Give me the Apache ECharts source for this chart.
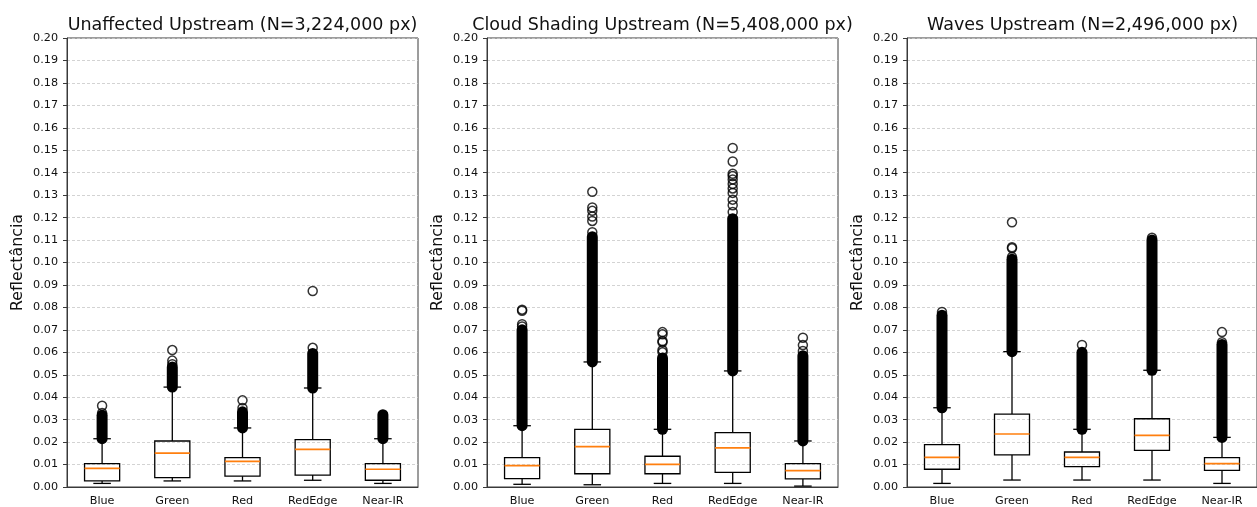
<!DOCTYPE html>
<html>
<head>
<meta charset="utf-8">
<title>Reflectância boxplots</title>
<script src="https://cdn.jsdelivr.net/npm/echarts@6/dist/echarts.min.js"></script>
<style>
  html, body { margin: 0; padding: 0; background: #fff; }
  #main { width: 1257px; height: 507px; }
</style>
</head>
<body>
<div id="main"></div>
<script>
 // 波段
 var categories = ['Blue', 'Green', 'Red', 'RedEdge', 'Near-IR'];
 var yTicks = [0, 0.2, 0.01];   // min, max, step

 var titles = [
	'Unaffected Upstream (N=3,224,000 px)',
	'Cloud Shading Upstream (N=5,408,000 px)',
	'Waves Upstream (N=2,496,000 px)'
 ];

 // [下须, Q1, 中位数, Q3, 上须]
 var unaffectedBoxes = [
	[0.0016, 0.0027, 0.0083, 0.0104, 0.0215],
	[0.0027, 0.0042, 0.0151, 0.0205, 0.0445],
	[0.0027, 0.0048, 0.0114, 0.0131, 0.0263],
	[0.0030, 0.0053, 0.0168, 0.0211, 0.0441],
	[0.0016, 0.0030, 0.0079, 0.0104, 0.0215]
 ];
 // 密集异常值区间 [起, 止]
 var unaffectedDense = [
	[0.0215, 0.0320], [0.0445, 0.0534], [0.0263, 0.0335], [0.0441, 0.0595], [0.0215, 0.0322]
 ];
 // 单独的异常值
 var unaffectedOutliers = [
	[0.0330, 0.0362],
	[0.0547, 0.0563, 0.0610],
	[0.0352, 0.0386],
	[0.0620, 0.0873],
	[]
 ];

 var cloudBoxes = [
	[0.0012, 0.0037, 0.0095, 0.0131, 0.0273],
	[0.0010, 0.0059, 0.0180, 0.0257, 0.0557],
	[0.0016, 0.0059, 0.0101, 0.0137, 0.0257],
	[0.0016, 0.0065, 0.0174, 0.0242, 0.0517],
	[0.0004, 0.0036, 0.0073, 0.0104, 0.0205]
 ];
 var cloudDense = [
	[0.0273, 0.0700], [0.0557, 0.1115], [0.0257, 0.0575], [0.0517, 0.1195], [0.0205, 0.0585]
 ];
 var cloudOutliers = [
	[0.0715, 0.0725, 0.0785, 0.0790],
	[0.1135, 0.1185, 0.1205, 0.1230, 0.1245, 0.1315],
	[0.0600, 0.0610, 0.0645, 0.0650, 0.0680, 0.0690],
	[0.1225, 0.1255, 0.1280, 0.1310, 0.1330, 0.1350, 0.1370, 0.1385, 0.1395, 0.1450, 0.1510],
	[0.0606, 0.0632, 0.0665]
 ];

 var wavesBoxes = [
	[0.0016, 0.0079, 0.0132, 0.0189, 0.0353],
	[0.0031, 0.0143, 0.0236, 0.0325, 0.0603],
	[0.0031, 0.0091, 0.0132, 0.0156, 0.0257],
	[0.0031, 0.0163, 0.0230, 0.0304, 0.0520],
	[0.0016, 0.0074, 0.0104, 0.0131, 0.0221]
 ];
 var wavesDense = [
	[0.0353, 0.0765], [0.0603, 0.1015], [0.0257, 0.0600], [0.0520, 0.1100], [0.0221, 0.0635]
 ];
 var wavesOutliers = [
	[0.0780],
	[0.1025, 0.1063, 0.1068, 0.1179],
	[0.0633],
	[0.1110],
	[0.0645, 0.0690]
 ];

 var panels = [
	{boxes: unaffectedBoxes, dense: unaffectedDense, outliers: unaffectedOutliers},
	{boxes: cloudBoxes, dense: cloudDense, outliers: cloudOutliers},
	{boxes: wavesBoxes, dense: wavesDense, outliers: wavesOutliers}
 ];

 var FONT = 'DejaVu Sans';
 var gridLefts = [67, 487, 907];
 var gridWidths = [351, 351, 355];   // 第三个图右边框在画面外

 /**
 *	箱体 + 须 + 中位线
 */
 function renderBox(params, api){
	var x = api.value(0);
	var low = api.coord([x, api.value(1)]);
	var q1 = api.coord([x, api.value(2)]);
	var med = api.coord([x, api.value(3)]);
	var q3 = api.coord([x, api.value(4)]);
	var high = api.coord([x, api.value(5)]);
	var bw = api.size([1, 0])[0] * 0.5;
	var cx = low[0];
	var ls = {stroke: '#000', lineWidth: 1.3, fill: 'none'};
	return {
		type: 'group',
		children: [
			{type: 'line', shape: {x1: cx, y1: q1[1], x2: cx, y2: low[1]}, style: ls},
			{type: 'line', shape: {x1: cx, y1: q3[1], x2: cx, y2: high[1]}, style: ls},
			{type: 'line', shape: {x1: cx - bw / 4, y1: low[1], x2: cx + bw / 4, y2: low[1]}, style: ls},
			{type: 'line', shape: {x1: cx - bw / 4, y1: high[1], x2: cx + bw / 4, y2: high[1]}, style: ls},
			{type: 'rect', shape: {x: cx - bw / 2, y: q3[1], width: bw, height: q1[1] - q3[1]}, style: ls},
			{type: 'line', shape: {x1: cx - bw / 2, y1: med[1], x2: cx + bw / 2, y2: med[1]},
				style: {stroke: '#ff7f0e', lineWidth: 1.7}}
		]
	};
 }

 /**
 *	重叠的异常值 -> 黑色实心柱
 */
 function renderDense(params, api){
	var x = api.value(0);
	var bot = api.coord([x, api.value(1)]);
	var top = api.coord([x, api.value(2)]);
	return {
		type: 'rect',
		shape: {x: bot[0] - 5.5, y: top[1] - 5.5, width: 11, height: bot[1] - top[1] + 11, r: 5.5},
		style: {fill: '#000'}
	};
 }

 var grid = [], xAxis = [], yAxis = [], title = [], series = [];
 panels.forEach(function(p, k){
	grid.push({
		left: gridLefts[k], top: 38, width: gridWidths[k], height: 449,
		show: true, borderColor: '#3a3a3a', borderWidth: 1, backgroundColor: 'transparent'
	});
	title.push({
		text: titles[k],
		left: gridLefts[k] + 351 / 2 - 5,
		textAlign: 'center',
		top: 11,
		textStyle: {fontFamily: FONT, fontSize: 17.5, fontWeight: 'normal', color: '#111'}
	});
	xAxis.push({
		type: 'category', gridIndex: k, data: categories,
		axisLine: {lineStyle: {color: '#3a3a3a', width: 1}},
		axisTick: {alignWithLabel: true, length: 4, lineStyle: {color: '#3a3a3a'}},
		axisLabel: {fontFamily: FONT, fontSize: 11.2, color: '#111', margin: 9},
		splitLine: {show: false}
	});
	yAxis.push({
		type: 'value', gridIndex: k, min: yTicks[0], max: yTicks[1], interval: yTicks[2],
		name: 'Reflectância', nameLocation: 'middle', nameGap: 41,
		nameTextStyle: {fontFamily: FONT, fontSize: 15.8, color: '#111'},
		axisLine: {show: true, lineStyle: {color: '#3a3a3a', width: 1}},
		axisTick: {show: true, length: 4, lineStyle: {color: '#3a3a3a'}},
		axisLabel: {fontFamily: FONT, fontSize: 11.2, color: '#111', margin: 9,
			formatter: function(v){ return v.toFixed(2); }},
		splitLine: {show: true, lineStyle: {color: '#c8c8c8', width: 0.8, type: [3, 2]}}
	});

	var outlierPts = [];
	p.outliers.forEach(function(list, i){
		list.forEach(function(v){ outlierPts.push([i, v]); });
	});

	series.push({
		type: 'custom', xAxisIndex: k, yAxisIndex: k,
		renderItem: renderBox,
		encode: {x: 0, y: [1, 2, 3, 4, 5]},
		data: p.boxes.map(function(b, i){ return [i].concat(b); }),
		z: 2
	});
	series.push({
		type: 'custom', xAxisIndex: k, yAxisIndex: k,
		renderItem: renderDense,
		encode: {x: 0, y: [1, 2]},
		data: p.dense.map(function(d, i){ return [i].concat(d); }),
		z: 3
	});
	series.push({
		type: 'scatter', xAxisIndex: k, yAxisIndex: k,
		symbol: 'circle', symbolSize: 9,
		itemStyle: {color: 'rgba(255,255,255,0)', borderColor: '#000', borderWidth: 1.5},
		data: outlierPts,
		z: 4
	});
 });

 var myChart = echarts.init(document.getElementById('main'), null, {renderer: 'canvas'});
 myChart.setOption({
	animation: false,
	title: title,
	grid: grid,
	xAxis: xAxis,
	yAxis: yAxis,
	series: series
 });
</script>
</body>
</html>
